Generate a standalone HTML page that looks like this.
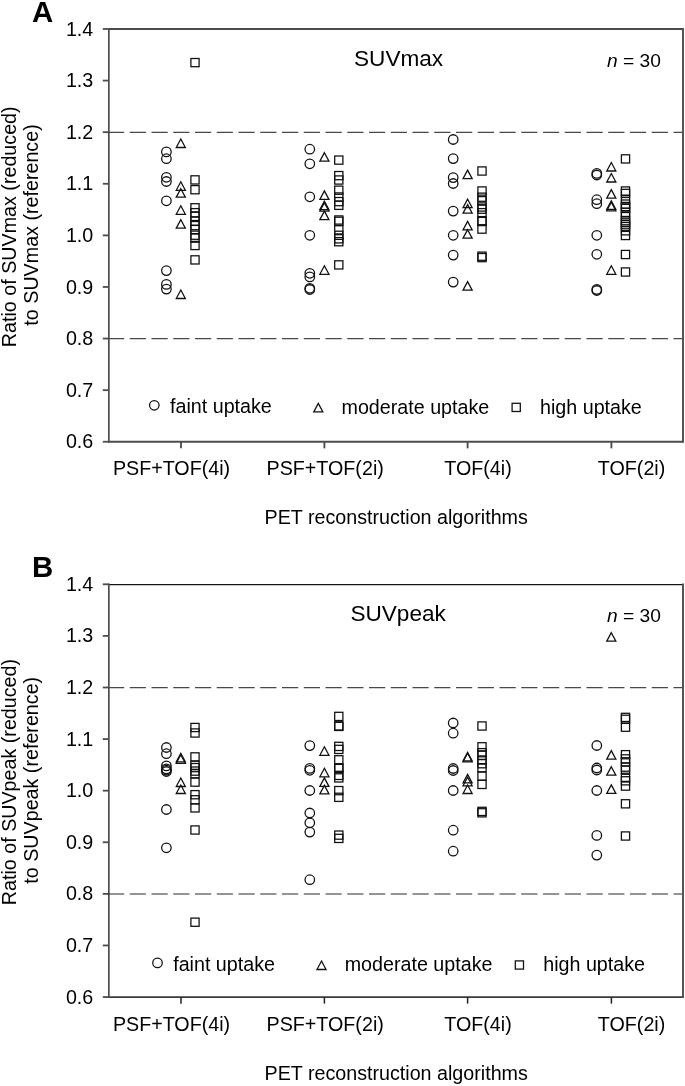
<!DOCTYPE html>
<html><head><meta charset="utf-8"><style>
html,body{margin:0;padding:0;background:#fff;}
svg{display:block;-webkit-font-smoothing:antialiased;filter:grayscale(1);}
.t{font-family:"Liberation Sans", sans-serif;font-size:19.7px;fill:#000;}
.ti{font-family:"Liberation Sans", sans-serif;font-size:22.6px;fill:#000;}
.b{font-family:"Liberation Sans", sans-serif;font-size:29.4px;font-weight:bold;fill:#000;}
.m circle,.m path,.m rect{fill:none;stroke:#111;stroke-width:1.28;}
</style></head><body>
<svg width="685" height="1086" viewBox="0 0 685 1086">
<rect width="685" height="1086" fill="#fff"/>
<g stroke="#4c4c4c" fill="none">
<path d="M108.85 29.0H683.0" stroke-width="1.9"/>
<path d="M108.85 441.75H683.0" stroke-width="1.8"/>
<path d="M108.85 28.1V442.65" stroke-width="1.7"/>
<path d="M683.0 28.1V442.65" stroke-width="1.9"/>
<path d="M102.8 29.00H108.85" stroke-width="1.8"/>
<path d="M102.8 80.59H108.85" stroke-width="1.8"/>
<path d="M102.8 132.19H108.85" stroke-width="1.8"/>
<path d="M102.8 183.78H108.85" stroke-width="1.8"/>
<path d="M102.8 235.38H108.85" stroke-width="1.8"/>
<path d="M102.8 286.97H108.85" stroke-width="1.8"/>
<path d="M102.8 338.56H108.85" stroke-width="1.8"/>
<path d="M102.8 390.16H108.85" stroke-width="1.8"/>
<path d="M102.8 441.75H108.85" stroke-width="1.8"/>
<path d="M181.00 441.75V448.35" stroke-width="1.85" stroke="#4c4c4c"/>
<path d="M324.40 441.75V448.35" stroke-width="1.85" stroke="#4c4c4c"/>
<path d="M467.60 441.75V448.35" stroke-width="1.85" stroke="#4c4c4c"/>
<path d="M611.40 441.75V448.35" stroke-width="1.85" stroke="#4c4c4c"/>
</g>
<path d="M108 132.40H682.0" fill="none" stroke="#484848" stroke-width="1.25" stroke-dasharray="16.2 5.55"/>
<path d="M108 338.60H682.0" fill="none" stroke="#484848" stroke-width="1.25" stroke-dasharray="16.2 5.55"/>
<text x="93.3" y="35.60" class="t" text-anchor="end">1.4</text>
<text x="93.3" y="87.19" class="t" text-anchor="end">1.3</text>
<text x="93.3" y="138.79" class="t" text-anchor="end">1.2</text>
<text x="93.3" y="190.38" class="t" text-anchor="end">1.1</text>
<text x="93.3" y="241.97" class="t" text-anchor="end">1.0</text>
<text x="93.3" y="293.57" class="t" text-anchor="end">0.9</text>
<text x="93.3" y="345.16" class="t" text-anchor="end">0.8</text>
<text x="93.3" y="396.76" class="t" text-anchor="end">0.7</text>
<text x="93.3" y="448.35" class="t" text-anchor="end">0.6</text>
<text x="171.5" y="475.30" class="t" text-anchor="middle">PSF+TOF(4i)</text>
<text x="325.2" y="475.30" class="t" text-anchor="middle">PSF+TOF(2i)</text>
<text x="478.0" y="475.30" class="t" text-anchor="middle">TOF(4i)</text>
<text x="631.6" y="475.30" class="t" text-anchor="middle">TOF(2i)</text>
<text x="396.2" y="524.20" class="t" text-anchor="middle">PET reconstruction algorithms</text>
<text x="31.9" y="21.70" class="b">A</text>
<text x="354.0" y="65.70" class="ti">SUVmax</text>
<text x="607" y="66.60" class="t" style="font-size:19.2px"><tspan font-style="italic">n</tspan> = 30</text>
<text transform="translate(16.3 226.78) rotate(-90)" class="t" text-anchor="middle">Ratio of SUVmax (reduced)</text>
<text transform="translate(38 224.97) rotate(-90)" class="t" text-anchor="middle">to SUVmax (reference)</text>
<g class="m"><circle cx="154.30" cy="405.30" r="4.75"/><path d="M318.30 403.40L322.85 411.90H313.75Z"/><rect x="512.10" y="403.30" width="8.2" height="8.2"/></g>
<text x="170.00" y="413.20" class="t">faint uptake</text>
<text x="341.50" y="413.50" class="t">moderate uptake</text>
<text x="540.00" y="413.50" class="t">high uptake</text>
<g stroke="#4c4c4c" fill="none">
<path d="M108.85 584.5H683.0" stroke-width="1.25" stroke="#141414"/>
<path d="M108.85 997.2H683.0" stroke-width="1.7" stroke="#3a3a3a"/>
<path d="M108.85 583.4V997.9499999999999" stroke-width="1.7"/>
<path d="M683.0 583.4V997.9499999999999" stroke-width="1.9"/>
<path d="M102.8 584.30H108.85" stroke-width="1.8"/>
<path d="M102.8 635.89H108.85" stroke-width="1.8"/>
<path d="M102.8 687.49H108.85" stroke-width="1.8"/>
<path d="M102.8 739.08H108.85" stroke-width="1.8"/>
<path d="M102.8 790.67H108.85" stroke-width="1.8"/>
<path d="M102.8 842.27H108.85" stroke-width="1.8"/>
<path d="M102.8 893.86H108.85" stroke-width="1.8"/>
<path d="M102.8 945.46H108.85" stroke-width="1.8"/>
<path d="M102.8 997.05H108.85" stroke-width="1.8"/>
<path d="M181.00 997.05V1003.65" stroke-width="1.5" stroke="#222"/>
<path d="M324.40 997.05V1003.65" stroke-width="1.5" stroke="#222"/>
<path d="M467.60 997.05V1003.65" stroke-width="1.5" stroke="#222"/>
<path d="M611.40 997.05V1003.65" stroke-width="1.5" stroke="#222"/>
</g>
<path d="M108 687.60H682.0" fill="none" stroke="#484848" stroke-width="1.25" stroke-dasharray="16.2 5.55"/>
<path d="M108 894.00H682.0" fill="none" stroke="#2a2a2a" stroke-width="1.2" stroke-dasharray="16.2 5.55"/>
<text x="93.3" y="590.90" class="t" text-anchor="end">1.4</text>
<text x="93.3" y="642.49" class="t" text-anchor="end">1.3</text>
<text x="93.3" y="694.09" class="t" text-anchor="end">1.2</text>
<text x="93.3" y="745.68" class="t" text-anchor="end">1.1</text>
<text x="93.3" y="797.27" class="t" text-anchor="end">1.0</text>
<text x="93.3" y="848.87" class="t" text-anchor="end">0.9</text>
<text x="93.3" y="900.46" class="t" text-anchor="end">0.8</text>
<text x="93.3" y="952.06" class="t" text-anchor="end">0.7</text>
<text x="93.3" y="1003.65" class="t" text-anchor="end">0.6</text>
<text x="171.5" y="1030.60" class="t" text-anchor="middle">PSF+TOF(4i)</text>
<text x="325.2" y="1030.60" class="t" text-anchor="middle">PSF+TOF(2i)</text>
<text x="478.0" y="1030.60" class="t" text-anchor="middle">TOF(4i)</text>
<text x="631.6" y="1030.60" class="t" text-anchor="middle">TOF(2i)</text>
<text x="396.2" y="1079.50" class="t" text-anchor="middle">PET reconstruction algorithms</text>
<text x="31.9" y="577.00" class="b">B</text>
<text x="350.4" y="621.00" class="ti">SUVpeak</text>
<text x="607" y="621.90" class="t" style="font-size:19.2px"><tspan font-style="italic">n</tspan> = 30</text>
<text transform="translate(16.3 782.07) rotate(-90)" class="t" text-anchor="middle">Ratio of SUVpeak (reduced)</text>
<text transform="translate(38 780.27) rotate(-90)" class="t" text-anchor="middle">to SUVpeak (reference)</text>
<g class="m"><circle cx="157.50" cy="962.90" r="4.75"/><path d="M321.50 961.00L326.05 969.50H316.95Z"/><rect x="515.30" y="960.90" width="8.2" height="8.2"/></g>
<text x="173.20" y="970.80" class="t">faint uptake</text>
<text x="344.70" y="971.10" class="t">moderate uptake</text>
<text x="543.20" y="971.10" class="t">high uptake</text>
<g class="m">
<circle cx="166.40" cy="151.90" r="4.75"/>
<circle cx="166.40" cy="158.70" r="4.75"/>
<circle cx="166.40" cy="177.30" r="4.75"/>
<circle cx="166.40" cy="181.50" r="4.75"/>
<circle cx="166.40" cy="200.80" r="4.75"/>
<circle cx="166.40" cy="270.60" r="4.75"/>
<circle cx="166.40" cy="284.40" r="4.75"/>
<circle cx="166.40" cy="289.10" r="4.75"/>
<path d="M180.80 139.00L185.35 147.50H176.25Z"/>
<path d="M180.80 181.80L185.35 190.30H176.25Z"/>
<path d="M180.80 188.70L185.35 197.20H176.25Z"/>
<path d="M180.80 205.80L185.35 214.30H176.25Z"/>
<path d="M180.80 219.70L185.35 228.20H176.25Z"/>
<path d="M180.80 290.00L185.35 298.50H176.25Z"/>
<rect x="190.90" y="58.50" width="8.2" height="8.2"/>
<rect x="190.90" y="175.80" width="8.2" height="8.2"/>
<rect x="190.90" y="185.60" width="8.2" height="8.2"/>
<rect x="190.90" y="203.70" width="8.2" height="8.2"/>
<rect x="190.90" y="208.60" width="8.2" height="8.2"/>
<rect x="190.90" y="212.30" width="8.2" height="8.2"/>
<rect x="190.90" y="217.10" width="8.2" height="8.2"/>
<rect x="190.90" y="221.50" width="8.2" height="8.2"/>
<rect x="190.90" y="225.40" width="8.2" height="8.2"/>
<rect x="190.90" y="231.10" width="8.2" height="8.2"/>
<rect x="190.90" y="234.00" width="8.2" height="8.2"/>
<rect x="190.90" y="241.40" width="8.2" height="8.2"/>
<rect x="190.90" y="255.80" width="8.2" height="8.2"/>
<circle cx="309.80" cy="149.20" r="4.75"/>
<circle cx="309.80" cy="163.80" r="4.75"/>
<circle cx="309.80" cy="196.80" r="4.75"/>
<circle cx="309.80" cy="235.30" r="4.75"/>
<circle cx="309.80" cy="273.30" r="4.75"/>
<circle cx="309.80" cy="276.90" r="4.75"/>
<circle cx="309.80" cy="288.30" r="4.75"/>
<circle cx="309.80" cy="289.50" r="4.75"/>
<path d="M324.40 152.70L328.95 161.20H319.85Z"/>
<path d="M324.40 190.90L328.95 199.40H319.85Z"/>
<path d="M324.40 201.20L328.95 209.70H319.85Z"/>
<path d="M324.40 202.60L328.95 211.10H319.85Z"/>
<path d="M324.40 211.10L328.95 219.60H319.85Z"/>
<path d="M324.40 265.80L328.95 274.30H319.85Z"/>
<rect x="334.70" y="156.00" width="8.2" height="8.2"/>
<rect x="334.70" y="171.50" width="8.2" height="8.2"/>
<rect x="334.70" y="175.90" width="8.2" height="8.2"/>
<rect x="334.70" y="186.10" width="8.2" height="8.2"/>
<rect x="334.70" y="192.90" width="8.2" height="8.2"/>
<rect x="334.70" y="197.50" width="8.2" height="8.2"/>
<rect x="334.70" y="201.20" width="8.2" height="8.2"/>
<rect x="334.70" y="215.90" width="8.2" height="8.2"/>
<rect x="334.70" y="217.20" width="8.2" height="8.2"/>
<rect x="334.70" y="225.70" width="8.2" height="8.2"/>
<rect x="334.70" y="231.20" width="8.2" height="8.2"/>
<rect x="334.70" y="234.70" width="8.2" height="8.2"/>
<rect x="334.70" y="237.60" width="8.2" height="8.2"/>
<rect x="334.70" y="260.80" width="8.2" height="8.2"/>
<circle cx="453.20" cy="139.50" r="4.75"/>
<circle cx="453.20" cy="158.60" r="4.75"/>
<circle cx="453.20" cy="177.60" r="4.75"/>
<circle cx="453.20" cy="183.50" r="4.75"/>
<circle cx="453.20" cy="211.10" r="4.75"/>
<circle cx="453.20" cy="235.30" r="4.75"/>
<circle cx="453.20" cy="255.10" r="4.75"/>
<circle cx="453.20" cy="282.10" r="4.75"/>
<path d="M467.60 170.10L472.15 178.60H463.05Z"/>
<path d="M467.60 199.20L472.15 207.70H463.05Z"/>
<path d="M467.60 204.60L472.15 213.10H463.05Z"/>
<path d="M467.60 221.40L472.15 229.90H463.05Z"/>
<path d="M467.60 229.70L472.15 238.20H463.05Z"/>
<path d="M467.60 281.60L472.15 290.10H463.05Z"/>
<rect x="477.90" y="166.90" width="8.2" height="8.2"/>
<rect x="477.90" y="186.90" width="8.2" height="8.2"/>
<rect x="477.90" y="193.10" width="8.2" height="8.2"/>
<rect x="477.90" y="196.60" width="8.2" height="8.2"/>
<rect x="477.90" y="202.90" width="8.2" height="8.2"/>
<rect x="477.90" y="205.10" width="8.2" height="8.2"/>
<rect x="477.90" y="208.60" width="8.2" height="8.2"/>
<rect x="477.90" y="216.60" width="8.2" height="8.2"/>
<rect x="477.90" y="217.40" width="8.2" height="8.2"/>
<rect x="477.90" y="225.00" width="8.2" height="8.2"/>
<rect x="477.90" y="252.10" width="8.2" height="8.2"/>
<rect x="477.90" y="253.50" width="8.2" height="8.2"/>
<circle cx="596.80" cy="173.40" r="4.75"/>
<circle cx="596.80" cy="175.00" r="4.75"/>
<circle cx="596.80" cy="199.70" r="4.75"/>
<circle cx="596.80" cy="203.70" r="4.75"/>
<circle cx="596.80" cy="235.30" r="4.75"/>
<circle cx="596.80" cy="254.30" r="4.75"/>
<circle cx="596.80" cy="289.40" r="4.75"/>
<circle cx="596.80" cy="290.50" r="4.75"/>
<path d="M611.30 162.50L615.85 171.00H606.75Z"/>
<path d="M611.30 173.50L615.85 182.00H606.75Z"/>
<path d="M611.30 189.60L615.85 198.10H606.75Z"/>
<path d="M611.30 200.80L615.85 209.30H606.75Z"/>
<path d="M611.30 202.30L615.85 210.80H606.75Z"/>
<path d="M611.30 265.80L615.85 274.30H606.75Z"/>
<rect x="621.40" y="154.80" width="8.2" height="8.2"/>
<rect x="621.40" y="186.90" width="8.2" height="8.2"/>
<rect x="621.40" y="189.30" width="8.2" height="8.2"/>
<rect x="621.40" y="195.70" width="8.2" height="8.2"/>
<rect x="621.40" y="200.00" width="8.2" height="8.2"/>
<rect x="621.40" y="202.40" width="8.2" height="8.2"/>
<rect x="621.40" y="204.30" width="8.2" height="8.2"/>
<rect x="621.40" y="208.30" width="8.2" height="8.2"/>
<rect x="621.40" y="211.90" width="8.2" height="8.2"/>
<rect x="621.40" y="216.60" width="8.2" height="8.2"/>
<rect x="621.40" y="218.20" width="8.2" height="8.2"/>
<rect x="621.40" y="220.60" width="8.2" height="8.2"/>
<rect x="621.40" y="222.50" width="8.2" height="8.2"/>
<rect x="621.40" y="226.70" width="8.2" height="8.2"/>
<rect x="621.40" y="231.40" width="8.2" height="8.2"/>
<rect x="621.40" y="250.40" width="8.2" height="8.2"/>
<rect x="621.40" y="267.90" width="8.2" height="8.2"/>
<circle cx="166.40" cy="747.50" r="4.75"/>
<circle cx="166.40" cy="753.70" r="4.75"/>
<circle cx="166.40" cy="765.90" r="4.75"/>
<circle cx="166.40" cy="768.90" r="4.75"/>
<circle cx="166.40" cy="770.20" r="4.75"/>
<circle cx="166.40" cy="771.50" r="4.75"/>
<circle cx="166.40" cy="809.50" r="4.75"/>
<circle cx="166.40" cy="847.80" r="4.75"/>
<path d="M180.80 753.30L185.35 761.80H176.25Z"/>
<path d="M180.80 754.80L185.35 763.30H176.25Z"/>
<path d="M180.80 778.00L185.35 786.50H176.25Z"/>
<path d="M180.80 785.00L185.35 793.50H176.25Z"/>
<rect x="190.90" y="723.40" width="8.2" height="8.2"/>
<rect x="190.90" y="728.90" width="8.2" height="8.2"/>
<rect x="190.90" y="752.80" width="8.2" height="8.2"/>
<rect x="190.90" y="761.10" width="8.2" height="8.2"/>
<rect x="190.90" y="763.50" width="8.2" height="8.2"/>
<rect x="190.90" y="767.00" width="8.2" height="8.2"/>
<rect x="190.90" y="769.70" width="8.2" height="8.2"/>
<rect x="190.90" y="778.00" width="8.2" height="8.2"/>
<rect x="190.90" y="790.60" width="8.2" height="8.2"/>
<rect x="190.90" y="795.70" width="8.2" height="8.2"/>
<rect x="190.90" y="803.80" width="8.2" height="8.2"/>
<rect x="190.90" y="825.90" width="8.2" height="8.2"/>
<rect x="190.90" y="918.10" width="8.2" height="8.2"/>
<circle cx="309.80" cy="745.60" r="4.75"/>
<circle cx="309.80" cy="768.40" r="4.75"/>
<circle cx="309.80" cy="770.30" r="4.75"/>
<circle cx="309.80" cy="790.50" r="4.75"/>
<circle cx="309.80" cy="813.00" r="4.75"/>
<circle cx="309.80" cy="822.80" r="4.75"/>
<circle cx="309.80" cy="832.10" r="4.75"/>
<circle cx="309.80" cy="879.70" r="4.75"/>
<path d="M324.40 746.80L328.95 755.30H319.85Z"/>
<path d="M324.40 768.30L328.95 776.80H319.85Z"/>
<path d="M324.40 777.90L328.95 786.40H319.85Z"/>
<path d="M324.40 785.40L328.95 793.90H319.85Z"/>
<rect x="334.70" y="712.30" width="8.2" height="8.2"/>
<rect x="334.70" y="721.80" width="8.2" height="8.2"/>
<rect x="334.70" y="722.30" width="8.2" height="8.2"/>
<rect x="334.70" y="742.30" width="8.2" height="8.2"/>
<rect x="334.70" y="745.30" width="8.2" height="8.2"/>
<rect x="334.70" y="755.70" width="8.2" height="8.2"/>
<rect x="334.70" y="763.80" width="8.2" height="8.2"/>
<rect x="334.70" y="764.40" width="8.2" height="8.2"/>
<rect x="334.70" y="771.30" width="8.2" height="8.2"/>
<rect x="334.70" y="773.80" width="8.2" height="8.2"/>
<rect x="334.70" y="786.50" width="8.2" height="8.2"/>
<rect x="334.70" y="793.20" width="8.2" height="8.2"/>
<rect x="334.70" y="831.00" width="8.2" height="8.2"/>
<rect x="334.70" y="834.30" width="8.2" height="8.2"/>
<circle cx="453.20" cy="723.00" r="4.75"/>
<circle cx="453.20" cy="733.20" r="4.75"/>
<circle cx="453.20" cy="768.50" r="4.75"/>
<circle cx="453.20" cy="770.50" r="4.75"/>
<circle cx="453.20" cy="790.50" r="4.75"/>
<circle cx="453.20" cy="830.20" r="4.75"/>
<circle cx="453.20" cy="851.20" r="4.75"/>
<path d="M467.60 752.30L472.15 760.80H463.05Z"/>
<path d="M467.60 753.30L472.15 761.80H463.05Z"/>
<path d="M467.60 774.40L472.15 782.90H463.05Z"/>
<path d="M467.60 777.30L472.15 785.80H463.05Z"/>
<path d="M467.60 785.00L472.15 793.50H463.05Z"/>
<rect x="477.90" y="721.90" width="8.2" height="8.2"/>
<rect x="477.90" y="742.70" width="8.2" height="8.2"/>
<rect x="477.90" y="748.60" width="8.2" height="8.2"/>
<rect x="477.90" y="751.20" width="8.2" height="8.2"/>
<rect x="477.90" y="755.90" width="8.2" height="8.2"/>
<rect x="477.90" y="759.60" width="8.2" height="8.2"/>
<rect x="477.90" y="763.60" width="8.2" height="8.2"/>
<rect x="477.90" y="772.00" width="8.2" height="8.2"/>
<rect x="477.90" y="780.30" width="8.2" height="8.2"/>
<rect x="477.90" y="807.30" width="8.2" height="8.2"/>
<rect x="477.90" y="808.70" width="8.2" height="8.2"/>
<circle cx="596.80" cy="745.50" r="4.75"/>
<circle cx="596.80" cy="768.00" r="4.75"/>
<circle cx="596.80" cy="770.00" r="4.75"/>
<circle cx="596.80" cy="790.50" r="4.75"/>
<circle cx="596.80" cy="835.40" r="4.75"/>
<circle cx="596.80" cy="855.10" r="4.75"/>
<path d="M611.30 632.70L615.85 641.20H606.75Z"/>
<path d="M611.30 750.60L615.85 759.10H606.75Z"/>
<path d="M611.30 766.70L615.85 775.20H606.75Z"/>
<path d="M611.30 784.90L615.85 793.40H606.75Z"/>
<rect x="621.40" y="713.30" width="8.2" height="8.2"/>
<rect x="621.40" y="715.20" width="8.2" height="8.2"/>
<rect x="621.40" y="723.10" width="8.2" height="8.2"/>
<rect x="621.40" y="750.60" width="8.2" height="8.2"/>
<rect x="621.40" y="754.80" width="8.2" height="8.2"/>
<rect x="621.40" y="757.70" width="8.2" height="8.2"/>
<rect x="621.40" y="763.00" width="8.2" height="8.2"/>
<rect x="621.40" y="766.10" width="8.2" height="8.2"/>
<rect x="621.40" y="773.20" width="8.2" height="8.2"/>
<rect x="621.40" y="776.70" width="8.2" height="8.2"/>
<rect x="621.40" y="782.00" width="8.2" height="8.2"/>
<rect x="621.40" y="799.70" width="8.2" height="8.2"/>
<rect x="621.40" y="831.90" width="8.2" height="8.2"/>
</g>
</svg>
</body></html>
